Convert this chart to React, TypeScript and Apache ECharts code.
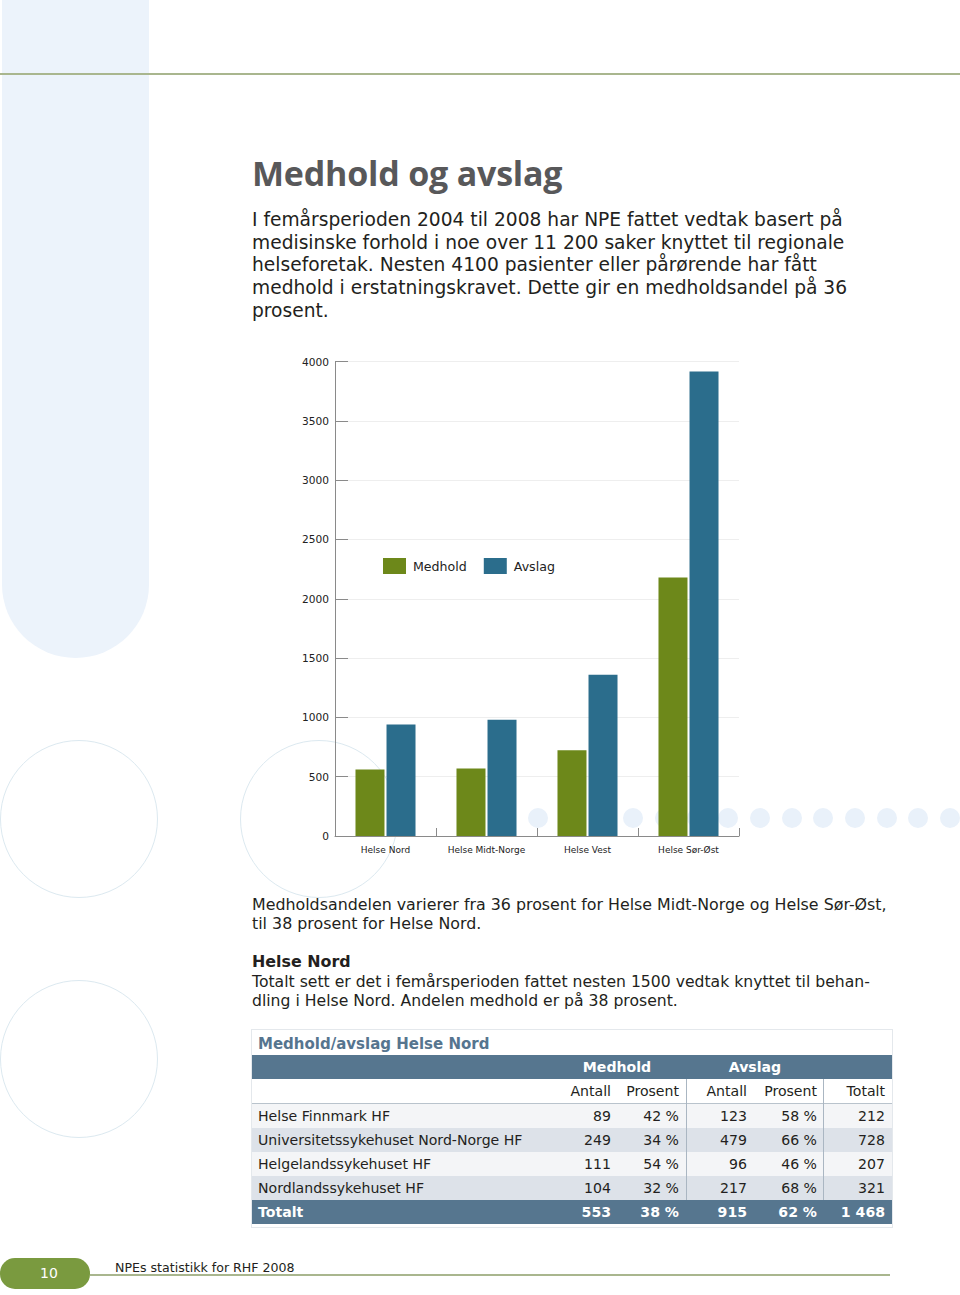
import React, { useEffect, useRef } from 'react';
import * as echarts from 'echarts';

// ---------- data ----------
const categories = ['Helse Nord', 'Helse Midt-Norge', 'Helse Vest', 'Helse Sør-Øst'];
const seriesNames = ['Medhold', 'Avslag'];
const medhold = [560, 568, 722, 2180];
const avslag = [940, 980, 1360, 3915];
const yMin = 0;
const yMax = 4000;
const yStep = 500;

const title = 'Medhold og avslag';
const intro = [
  'I femårsperioden 2004 til 2008 har NPE fattet vedtak basert på',
  'medisinske forhold i noe over 11 200 saker knyttet til regionale',
  'helseforetak. Nesten 4100 pasienter eller pårørende har fått',
  'medhold i erstatningskravet. Dette gir en medholdsandel på 36',
  'prosent.',
];
const para2 = [
  'Medholdsandelen varierer fra 36 prosent for Helse Midt-Norge og Helse Sør-Øst,',
  'til 38 prosent for Helse Nord.',
];
const subTitle = 'Helse Nord';
const para3 = [
  'Totalt sett er det i femårsperioden fattet nesten 1500 vedtak knyttet til behan-',
  'dling i Helse Nord. Andelen medhold er på 38 prosent.',
];

const tableTitle = 'Medhold/avslag Helse Nord';
const groupHeaders = ['Medhold', 'Avslag'];
const colHeaders = ['Antall', 'Prosent', 'Antall', 'Prosent', 'Totalt'];
const tableRows = [
  ['Helse Finnmark HF', '89', '42 %', '123', '58 %', '212'],
  ['Universitetssykehuset Nord-Norge HF', '249', '34 %', '479', '66 %', '728'],
  ['Helgelandssykehuset HF', '111', '54 %', '96', '46 %', '207'],
  ['Nordlandssykehuset HF', '104', '32 %', '217', '68 %', '321'],
];
const totalRow = ['Totalt', '553', '38 %', '915', '62 %', '1 468'];

const footerPage = '10';
const footerText = 'NPEs statistikk for RHF 2008';

// ---------- styles ----------
const FONT = '"DejaVu Sans", "Open Sans", sans-serif';
const TITLE_FONT = '"Open Sans", "Noto Sans", sans-serif';
const GREEN = '#6d881a';
const BLUE = '#2b6d8c';
const TABLE_DARK = '#56768f';
const LIGHT_BG = '#ecf3fb';
const CIRCLE = '#dce9f0';
const OLIVE = '#a9b68e';

function Chart() {
  const ref = useRef<HTMLDivElement>(null);
  useEffect(() => {
    if (!ref.current) return;
    const chart = echarts.init(ref.current, null, { renderer: 'svg' });
    chart.setOption({
      animation: false,
      backgroundColor: 'transparent',
      textStyle: { fontFamily: FONT },
      grid: { left: 55, top: 21.5, right: 21, bottom: 34, containLabel: false },
      legend: {
        data: seriesNames,
        left: 98,
        top: 213,
        itemWidth: 23,
        itemHeight: 16,
        itemGap: 17,
        icon: 'rect',
        textStyle: { fontSize: 12.6, color: '#222', fontFamily: FONT, padding: [0, 0, 0, 2] },
      },
      xAxis: {
        type: 'category',
        data: categories,
        boundaryGap: true,
        axisLine: { show: true, lineStyle: { color: '#8a8a8a', width: 1 } },
        axisTick: { show: true, inside: true, length: 8, alignWithLabel: false, lineStyle: { color: '#8a8a8a' } },
        axisLabel: { fontSize: 9, color: '#222', margin: 9, fontFamily: FONT },
        splitLine: { show: false },
      },
      yAxis: {
        type: 'value',
        min: yMin,
        max: yMax,
        interval: yStep,
        axisLine: { show: true, lineStyle: { color: '#8a8a8a', width: 1 } },
        axisTick: { show: true, inside: true, length: 13, lineStyle: { color: '#8a8a8a' } },
        axisLabel: { fontSize: 10.6, color: '#222', margin: 6, fontFamily: FONT, formatter: (v: number) => String(v) },
        splitLine: { show: true, lineStyle: { color: '#eeeeee', width: 1 } },
      },
      series: [
        {
          name: seriesNames[0],
          type: 'bar',
          data: medhold,
          barWidth: 29,
          barGap: '7%',
          itemStyle: { color: GREEN },
        },
        {
          name: seriesNames[1],
          type: 'bar',
          data: avslag,
          barWidth: 29,
          barGap: '7%',
          itemStyle: { color: BLUE },
        },
      ],
    });
    return () => chart.dispose();
  }, []);
  return (
    <div
      ref={ref}
      style={{ position: 'absolute', left: 280, top: 340, width: 480, height: 530 }}
    />
  );
}

function Line({ text, left, center, size, lh, bold, color, ls, font }: any) {
  return (
    <div
      style={{
        position: 'absolute',
        left,
        top: center - lh / 2,
        height: lh,
        lineHeight: lh + 'px',
        fontSize: size,
        fontWeight: bold ? 700 : 400,
        color: color || '#231f20',
        whiteSpace: 'nowrap',
        letterSpacing: ls ? ls + 'px' : undefined,
        fontFamily: font || FONT,
      }}
    >
      {text}
    </div>
  );
}

const colRight = [611, 679, 747, 817, 885];
const rowTops = [1104, 1128, 1152, 1176];
const rowBgs = ['#f4f5f7', '#dde2e9', '#f4f5f7', '#dde2e9'];
const TS = 14.1;

function TableRow({ cells, top, bg, color, bold }: any) {
  return (
    <>
      <div style={{ position: 'absolute', left: 252, top, width: 640, height: 24, background: bg }} />
      <div
        style={{
          position: 'absolute', left: 258, top: top + 2, height: 20, lineHeight: '20px', fontSize: TS,
          color, fontWeight: bold ? 700 : 400, whiteSpace: 'nowrap',
        }}
      >
        {cells[0]}
      </div>
      {cells.slice(1).map((c: string, i: number) => (
        <div
          key={i}
          style={{
            position: 'absolute', left: colRight[i] - 60, width: 60, top: top + 2, height: 20,
            lineHeight: '20px', fontSize: TS, textAlign: 'right', color,
            fontWeight: bold ? 700 : 400, whiteSpace: 'nowrap',
          }}
        >
          {c}
        </div>
      ))}
    </>
  );
}

export default function App() {
  const dots: number[] = [];
  for (let k = 0; k < 14; k++) dots.push(538 + k * 31.7);
  return (
    <div
      style={{
        position: 'absolute', left: 0, top: 0, width: 960, height: 1295, background: '#fff',
        overflow: 'hidden', fontFamily: FONT, color: '#231f20',
      }}
    >
      {/* decorations */}
      <div style={{ position: 'absolute', left: 2, top: 0, width: 147, height: 658, background: LIGHT_BG, borderRadius: '0 0 73.5px 73.5px' }} />
      <div style={{ position: 'absolute', left: 0, top: 73, width: 960, height: 2, background: OLIVE }} />
      <div style={{ position: 'absolute', left: 0, top: 740, width: 156, height: 156, border: `1.5px solid ${CIRCLE}`, borderRadius: '50%' }} />
      <div style={{ position: 'absolute', left: 240, top: 740, width: 156, height: 156, border: `1.5px solid ${CIRCLE}`, borderRadius: '50%' }} />
      <div style={{ position: 'absolute', left: 0, top: 980, width: 156, height: 156, border: `1.5px solid ${CIRCLE}`, borderRadius: '50%' }} />
      {dots.map((x, i) => (
        <div key={i} style={{ position: 'absolute', left: x - 10, top: 808, width: 20, height: 20, borderRadius: '50%', background: '#e9f1fa' }} />
      ))}

      {/* title + intro */}
      <Line text={title} left={252} center={173} size={34} lh={38} bold color="#58585a" ls={-0.2} font={TITLE_FONT} />
      {intro.map((t, i) => (
        <Line key={i} text={t} left={252} center={[219.5, 242.5, 264.5, 287.5, 310.5][i]} size={18.65} lh={20} />
      ))}

      <Chart />

      {para2.map((t, i) => (
        <Line key={i} text={t} left={252} center={[904.5, 923.5][i]} size={15.85} lh={17} />
      ))}
      <Line text={subTitle} left={252} center={961.5} size={15.9} lh={18} bold />
      {para3.map((t, i) => (
        <Line key={i} text={t} left={252} center={[981.5, 1000.5][i]} size={15.65} lh={17} />
      ))}

      {/* table */}
      <div style={{ position: 'absolute', left: 251, top: 1029, width: 640, height: 197, border: '1px solid #e4e8ec' }} />
      <Line text={tableTitle} left={258} center={1043.5} size={15} lh={18} bold color="#56758f" />
      <div style={{ position: 'absolute', left: 252, top: 1055, width: 640, height: 24, background: TABLE_DARK }} />
      <div style={{ position: 'absolute', left: 577, width: 80, top: 1057, height: 20, lineHeight: '20px', textAlign: 'center', color: '#fff', fontWeight: 700, fontSize: TS }}>{groupHeaders[0]}</div>
      <div style={{ position: 'absolute', left: 715, width: 80, top: 1057, height: 20, lineHeight: '20px', textAlign: 'center', color: '#fff', fontWeight: 700, fontSize: TS }}>{groupHeaders[1]}</div>
      {colHeaders.map((h, i) => (
        <div key={i} style={{ position: 'absolute', left: colRight[i] - 60, width: 60, top: 1081, height: 20, lineHeight: '20px', textAlign: 'right', fontSize: TS, color: '#231f20' }}>{h}</div>
      ))}
      <div style={{ position: 'absolute', left: 252, top: 1103, width: 640, height: 1, background: '#b9c3cc' }} />
      {tableRows.map((r, i) => (
        <TableRow key={i} cells={r} top={rowTops[i]} bg={rowBgs[i]} color="#231f20" />
      ))}
      <TableRow cells={totalRow} top={1200} bg={TABLE_DARK} color="#fff" bold />
      <div style={{ position: 'absolute', left: 686, top: 1079, width: 1, height: 121, background: '#aab6c2' }} />
      <div style={{ position: 'absolute', left: 823, top: 1079, width: 1, height: 121, background: '#aab6c2' }} />

      {/* footer */}
      <div style={{ position: 'absolute', left: 0, top: 1258, width: 90, height: 31, background: '#7a9a3f', borderRadius: 15 }} />
      <div style={{ position: 'absolute', left: 90, top: 1274, width: 800, height: 1.5, background: OLIVE }} />
      <div style={{ position: 'absolute', left: 29, width: 40, top: 1263, height: 20, lineHeight: '20px', textAlign: 'center', color: '#fff', fontSize: 14 }}>{footerPage}</div>
      <Line text={footerText} left={115} center={1267} size={12.6} lh={15} />
    </div>
  );
}
